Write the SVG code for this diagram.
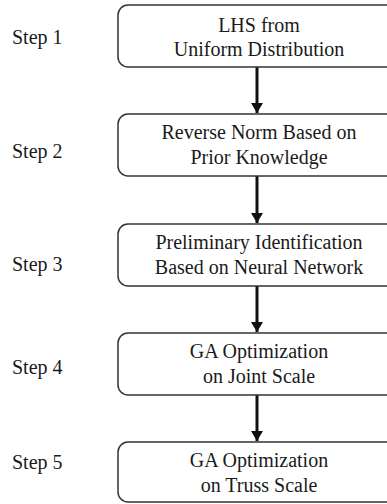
<svg xmlns="http://www.w3.org/2000/svg" width="387" height="504" viewBox="0 0 387 504">
  <defs>
    <marker id="arrow" viewBox="0 0 10 12" refX="10" refY="6" markerWidth="10" markerHeight="12" markerUnits="userSpaceOnUse" orient="auto">
      <path d="M0,0 L10,6 L0,12 Z" fill="#111"/>
    </marker>
    <style>
      .box { fill: #fff; stroke: #333; stroke-width: 1.5; }
      text { font-family: "Liberation Serif", Tinos, "DejaVu Serif", serif; font-size: 20px; fill: #1a1a1a; }
      .c { text-anchor: middle; }
      .edge { stroke: #111; stroke-width: 3; fill: none; }
    </style>
  </defs>
  <rect width="387" height="504" fill="#fff"/>

  <!-- step labels -->
  <g id="labels" font-family="Liberation Serif, serif">
    <text x="12" y="44">Step 1</text>
    <text x="12" y="158">Step 2</text>
    <text x="12" y="271">Step 3</text>
    <text x="12" y="374">Step 4</text>
    <text x="12" y="469">Step 5</text>
  </g>

  <!-- connectors -->
  <g id="edges">
    <line class="edge" x1="257" y1="67" x2="257" y2="113" marker-end="url(#arrow)"/>
    <line class="edge" x1="257" y1="176" x2="257" y2="223" marker-end="url(#arrow)"/>
    <line class="edge" x1="257" y1="286" x2="257" y2="332" marker-end="url(#arrow)"/>
    <line class="edge" x1="257" y1="395" x2="257" y2="441" marker-end="url(#arrow)"/>
  </g>

  <g id="n1">
    <rect class="box" x="118" y="5" width="282" height="62" rx="10"/>
    <text class="c" x="259" y="32">LHS from</text>
    <text class="c" x="259" y="56">Uniform Distribution</text>
  </g>
  <g id="n2">
    <rect class="box" x="118" y="114" width="282" height="62" rx="10"/>
    <text class="c" x="259" y="139">Reverse Norm Based on</text>
    <text class="c" x="259" y="164">Prior Knowledge</text>
  </g>
  <g id="n3">
    <rect class="box" x="118" y="224" width="282" height="62" rx="10"/>
    <text class="c" x="259" y="249">Preliminary Identification</text>
    <text class="c" x="259" y="274">Based on Neural Network</text>
  </g>
  <g id="n4">
    <rect class="box" x="118" y="333" width="282" height="62" rx="10"/>
    <text class="c" x="259" y="358">GA Optimization</text>
    <text class="c" x="259" y="383">on Joint Scale</text>
  </g>
  <g id="n5">
    <rect class="box" x="118" y="442" width="282" height="60" rx="10"/>
    <text class="c" x="259" y="467">GA Optimization</text>
    <text class="c" x="259" y="492">on Truss Scale</text>
  </g>
</svg>
